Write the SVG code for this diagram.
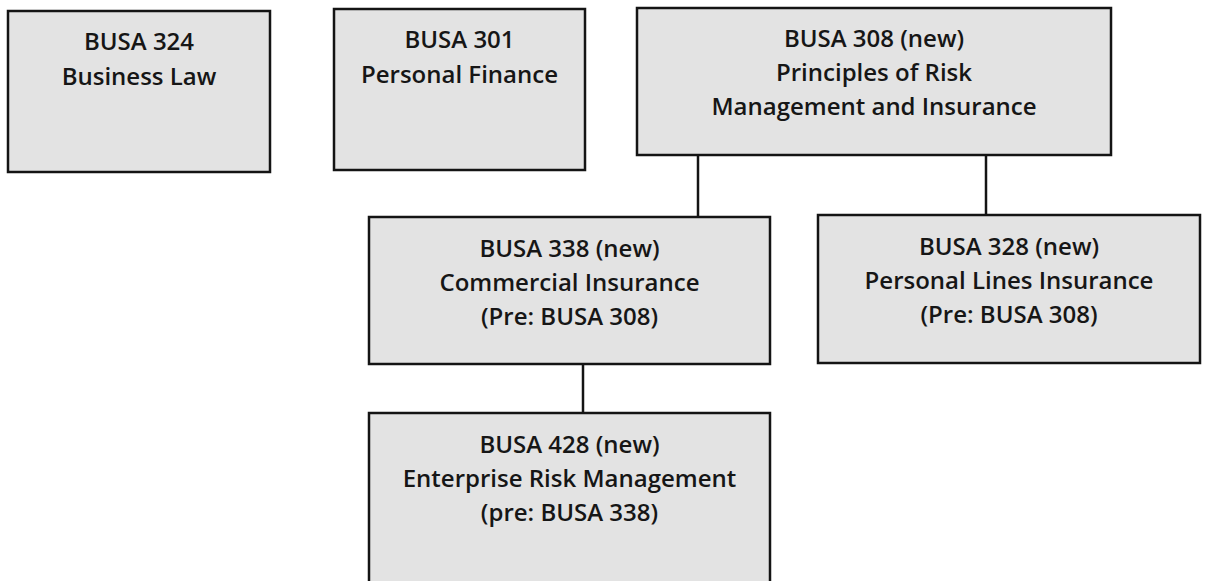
<svg xmlns="http://www.w3.org/2000/svg" width="1209" height="581" viewBox="0 0 1209 581">
<style>
.box{fill:#e3e3e3;stroke:#141414;stroke-width:2.5}
.t{font-family:"Open Sans","Liberation Sans",sans-serif;font-size:24px;font-weight:600;fill:#161616;text-anchor:middle}
.c{stroke:#141414;stroke-width:2.5;fill:none}
</style>
<rect width="1209" height="581" fill="#ffffff"/>
<g id="connectors">
<line class="c" x1="698" y1="155" x2="698" y2="217"/>
<line class="c" x1="986" y1="155" x2="986" y2="215"/>
<line class="c" x1="583" y1="364" x2="583" y2="413"/>
</g>
<g id="busa324">
<rect class="box" x="8" y="11" width="262" height="161"/>
<text class="t" x="139" y="50">BUSA 324</text>
<text class="t" x="139" y="85">Business Law</text>
</g>
<g id="busa301">
<rect class="box" x="334" y="9" width="251" height="161"/>
<text class="t" x="459.5" y="48">BUSA 301</text>
<text class="t" x="459.5" y="83">Personal Finance</text>
</g>
<g id="busa308">
<rect class="box" x="637" y="8" width="474" height="147"/>
<text class="t" x="874" y="47">BUSA 308 (new)</text>
<text class="t" x="874" y="81">Principles of Risk</text>
<text class="t" x="874" y="115">Management and Insurance</text>
</g>
<g id="busa338">
<rect class="box" x="369" y="217" width="401" height="147"/>
<text class="t" x="569.5" y="257">BUSA 338 (new)</text>
<text class="t" x="569.5" y="291">Commercial Insurance</text>
<text class="t" x="569.5" y="325">(Pre: BUSA 308)</text>
</g>
<g id="busa328">
<rect class="box" x="818" y="215" width="382" height="148"/>
<text class="t" x="1009" y="255">BUSA 328 (new)</text>
<text class="t" x="1009" y="289">Personal Lines Insurance</text>
<text class="t" x="1009" y="323">(Pre: BUSA 308)</text>
</g>
<g id="busa428">
<rect class="box" x="369" y="413" width="401" height="180"/>
<text class="t" x="569.5" y="453">BUSA 428 (new)</text>
<text class="t" x="569.5" y="487">Enterprise Risk Management</text>
<text class="t" x="569.5" y="521">(pre: BUSA 338)</text>
</g>
</svg>
